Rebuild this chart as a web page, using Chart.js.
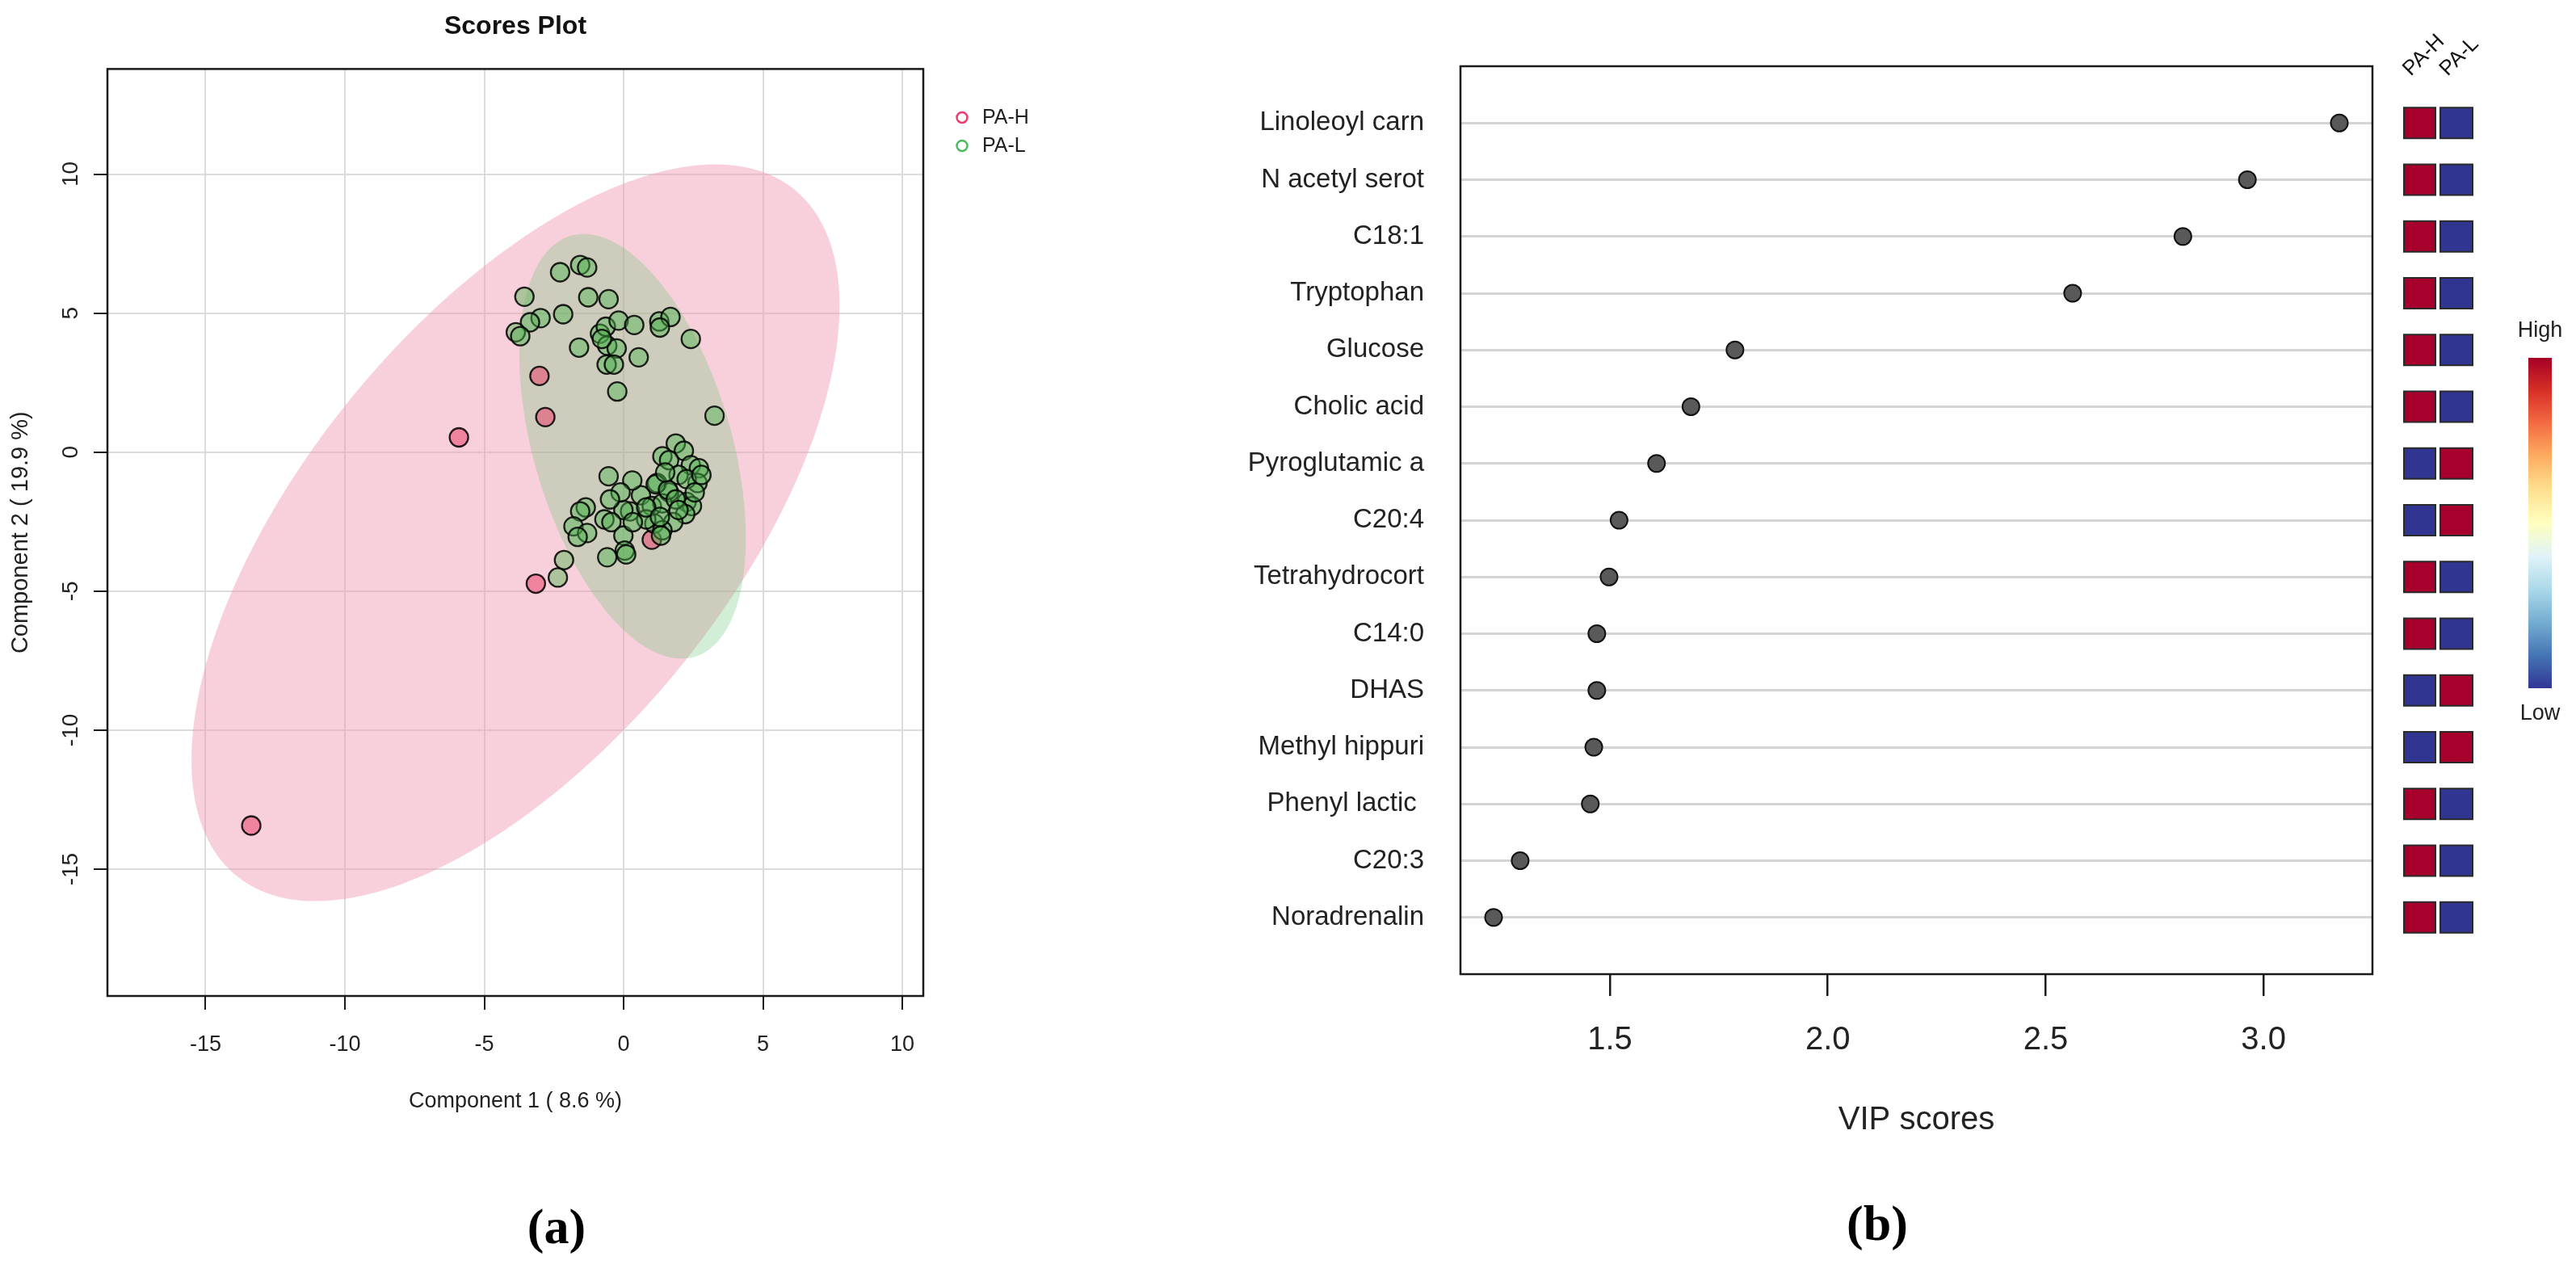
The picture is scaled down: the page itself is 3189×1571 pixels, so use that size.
<!DOCTYPE html>
<html>
<head>
<meta charset="utf-8">
<script src="https://cdn.jsdelivr.net/npm/chart.js@4.4.1/dist/chart.umd.min.js"></script>
<style>
  html, body { margin: 0; padding: 0; background: #fff; }
  #page { position: relative; width: 3189px; height: 1571px; overflow: hidden; }
  #scoresBox { position: absolute; left: 0; top: 0; width: 1400px; height: 1571px; }
  #vipBox { position: absolute; left: 1400px; top: 0; width: 1789px; height: 1571px; }
  .tag { position: absolute; transform: translate(-50%, -50%); font-family: 'Liberation Serif', 'DejaVu Serif', serif; font-weight: bold; font-size: 62px; color: #000; }
</style>
</head>
<body>
<div id="page">
  <div id="scoresBox"><canvas id="scoresPlot"></canvas></div>
  <div id="vipBox"><canvas id="vipPlot"></canvas></div>
  <div class="tag" style="left:689px; top:1518px">(a)</div>
  <div class="tag" style="left:2324px; top:1514px">(b)</div>
</div>
<script>
const SANS = "'Liberation Sans', Arial, Helvetica, sans-serif";

// (a) Scores plot: points (component 1, component 2)
const scoreGroups = ['PA-H', 'PA-L'];
const paHScores = [
  [-13.36, -13.43], [-5.91, 0.53], [-3.02, 2.74], [-2.81, 1.26], [-3.15, -4.73], [1.01, -3.15]
];
const paLScores = [
  [-2.28, 6.47], [-1.56, 6.73], [-1.31, 6.64], [-3.56, 5.59], [-1.27, 5.57], [-0.54, 5.50],
  [-2.17, 4.96], [-2.98, 4.82], [-3.36, 4.67], [-3.87, 4.31], [-3.71, 4.17], [-0.85, 4.26],
  [-0.64, 4.51], [-0.18, 4.73], [0.38, 4.57], [1.28, 4.70], [1.68, 4.86], [1.30, 4.48],
  [2.41, 4.07], [-1.60, 3.76], [-0.59, 3.83], [-0.25, 3.73], [-0.78, 4.07], [0.54, 3.41],
  [-0.61, 3.15], [-0.35, 3.15], [-0.23, 2.18], [3.26, 1.31],
  [1.87, 0.31], [2.16, 0.05], [1.39, -0.15], [1.63, -0.29], [2.41, -0.47], [2.70, -0.58],
  [1.97, -0.82], [2.65, -1.11], [2.26, -0.97], [1.20, -1.11], [1.63, -1.45], [0.62, -1.55],
  [0.23, -2.13], [-0.01, -2.08], [1.01, -1.94], [1.39, -1.84], [2.26, -1.79], [2.45, -1.94],
  [2.21, -2.23], [1.78, -2.52], [1.10, -2.57], [0.81, -2.42], [1.39, -2.81], [1.34, -3.00],
  [-0.54, -0.87], [0.31, -1.02], [-0.11, -1.45], [-0.49, -1.70], [-1.36, -1.99], [-1.56, -2.13],
  [-0.69, -2.42], [-0.44, -2.52], [-1.80, -2.67], [-1.31, -2.91], [-1.65, -3.05], [-0.01, -3.00],
  [0.04, -3.54], [0.09, -3.68], [-0.59, -3.78], [0.33, -2.52], [1.15, -1.16], [1.59, -1.36],
  [1.87, -1.70], [0.81, -1.99], [1.30, -2.33], [1.97, -2.08], [2.55, -1.45], [2.79, -0.82],
  [1.49, -0.73], [-2.14, -3.88], [-2.36, -4.51]
];
// 95% regions: centre, semi-axes, tilt in degrees
const paHEllipse = { cx: -3.88, cy: -2.90, a: 15.89, b: 7.63, angle: 51 };
const paLEllipse = { cx: 0.32, cy: 0.21, a: 7.89, b: 3.55, angle: -73.7 };
const scoreTicks = [-15, -10, -5, 0, 5, 10];

// (b) VIP scores
const vipFeatures = ['Linoleoyl carn', 'N acetyl serot', 'C18:1', 'Tryptophan', 'Glucose', 'Cholic acid',
  'Pyroglutamic a', 'C20:4', 'Tetrahydrocort', 'C14:0', 'DHAS', 'Methyl hippuri', 'Phenyl lactic ',
  'C20:3', 'Noradrenalin'];
const vipScores = [3.174, 2.963, 2.815, 2.562, 1.787, 1.686, 1.607, 1.521, 1.498, 1.470, 1.470,
  1.463, 1.455, 1.294, 1.233];
// group with the higher concentration for each feature
const vipHighGroup = ['PA-H', 'PA-H', 'PA-H', 'PA-H', 'PA-H', 'PA-H', 'PA-L', 'PA-L', 'PA-H', 'PA-H',
  'PA-L', 'PA-L', 'PA-H', 'PA-H', 'PA-H'];
const vipTicks = [1.5, 2.0, 2.5, 3.0];

const HIGH_COLOR = '#a8002c';
const LOW_COLOR = '#2f3590';
const RDYLBU = ['#a50026', '#d73027', '#f46d43', '#fdae61', '#fee090', '#ffffbf',
  '#e0f3f8', '#abd9e9', '#74add1', '#4575b4', '#313695'];

// Elipses de confianza debajo de los puntos
const ellipseFills = ['rgba(240, 150, 175, 0.45)', 'rgba(110, 200, 120, 0.30)'];
const ellipsePlugin = {
    id: 'groupEllipses',
    beforeDatasetsDraw(chart) {
        const { ctx, chartArea, scales } = chart;
        ctx.save();
        ctx.beginPath();
        ctx.rect(chartArea.left, chartArea.top, chartArea.width, chartArea.height);
        ctx.clip();
        [paHEllipse, paLEllipse].forEach((e, idx) => {
            const rad = e.angle * Math.PI / 180;
            ctx.beginPath();
            for (let k = 0; k <= 240; k++) {
                const t = k / 240 * 2 * Math.PI;
                const ex = e.cx + e.a * Math.cos(t) * Math.cos(rad) - e.b * Math.sin(t) * Math.sin(rad);
                const ey = e.cy + e.a * Math.cos(t) * Math.sin(rad) + e.b * Math.sin(t) * Math.cos(rad);
                const px = scales.x.getPixelForValue(ex);
                const py = scales.y.getPixelForValue(ey);
                if (k === 0) ctx.moveTo(px, py); else ctx.lineTo(px, py);
            }
            ctx.closePath();
            ctx.fillStyle = ellipseFills[idx];
            ctx.fill();
        });
        ctx.restore();
    }
};

// Marco completo alrededor del area de dibujo (estilo R)
const frameBox = {
    id: 'frameBox',
    afterDraw(chart) {
        const { ctx, chartArea } = chart;
        ctx.save();
        ctx.strokeStyle = '#1a1a1a';
        ctx.lineWidth = 2.5;
        ctx.strokeRect(chartArea.left, chartArea.top, chartArea.width, chartArea.height);
        ctx.restore();
    }
};

// Leyenda con circulos abiertos a la derecha del grafico
const legendColors = ['#ee3a6c', '#4cbb5e'];
const scoresLegend = {
    id: 'scoresLegend',
    afterDraw(chart) {
        const { ctx, chartArea } = chart;
        ctx.save();
        ctx.font = '25px ' + SANS;
        ctx.textBaseline = 'middle';
        scoreGroups.forEach((g, i) => {
            const cy = chartArea.top + 60 + i * 35;
            const cx = chartArea.right + 48;
            ctx.beginPath();
            ctx.arc(cx, cy, 6.5, 0, 2 * Math.PI);
            ctx.strokeStyle = legendColors[i];
            ctx.lineWidth = 2.5;
            ctx.stroke();
            ctx.fillStyle = '#222';
            ctx.fillText(g, cx + 25, cy + 1);
        });
        ctx.restore();
    }
};

// Mapa de calor PA-H / PA-L y barra de color
const vipHeatmap = {
    id: 'vipHeatmap',
    afterDraw(chart) {
        const { ctx, chartArea, scales } = chart;
        const n = vipFeatures.length;
        const cols = [{ left: 39, width: 39 }, { left: 84, width: 40 }];
        ctx.save();
        vipFeatures.forEach((f, i) => {
            const yc = scales.y.getPixelForValue(n - i);
            scoreGroups.forEach((g, j) => {
                const x0 = chartArea.right + cols[j].left;
                ctx.fillStyle = vipHighGroup[i] === g ? HIGH_COLOR : LOW_COLOR;
                ctx.fillRect(x0, yc - 19, cols[j].width, 38);
                ctx.strokeStyle = '#2a2a2a';
                ctx.lineWidth = 2;
                ctx.strokeRect(x0, yc - 19, cols[j].width, 38);
            });
        });
        // etiquetas de columna giradas
        ctx.font = '26px ' + SANS;
        ctx.fillStyle = '#111';
        ctx.textBaseline = 'alphabetic';
        ctx.textAlign = 'left';
        scoreGroups.forEach((g, j) => {
            const xc = chartArea.right + cols[j].left + cols[j].width / 2;
            ctx.save();
            ctx.translate(xc - 11, chartArea.top + 13);
            ctx.rotate(-Math.PI / 4);
            ctx.fillText(g, 0, 0);
            ctx.restore();
        });
        // barra de color
        const barX = chartArea.right + 193, barW = 29, barTop = 443, barBottom = 852;
        const grad = ctx.createLinearGradient(0, barTop, 0, barBottom);
        RDYLBU.forEach((c, k) => grad.addColorStop(k / (RDYLBU.length - 1), c));
        ctx.fillStyle = grad;
        ctx.fillRect(barX, barTop, barW, barBottom - barTop);
        ctx.font = '27px ' + SANS;
        ctx.textAlign = 'center';
        ctx.textBaseline = 'middle';
        ctx.fillStyle = '#222';
        ctx.fillText('High', barX + barW / 2, barTop - 33);
        ctx.fillText('Low', barX + barW / 2, barBottom + 32);
        ctx.restore();
    }
};

new Chart(document.getElementById('scoresPlot'), {
    type: 'scatter',
    data: {
        datasets: [
            {
                label: scoreGroups[0],
                data: paHScores.map(p => ({ x: p[0], y: p[1] })),
                backgroundColor: 'rgba(235, 70, 110, 0.55)',
                borderColor: 'rgba(0, 0, 0, 0.85)',
                borderWidth: 2.3,
                pointRadius: 11.5,
                order: 2
            },
            {
                label: scoreGroups[1],
                data: paLScores.map(p => ({ x: p[0], y: p[1] })),
                backgroundColor: 'rgba(80, 180, 80, 0.45)',
                borderColor: 'rgba(0, 0, 0, 0.85)',
                borderWidth: 2.3,
                pointRadius: 11.5,
                order: 1
            }
        ]
    },
    options: {
        responsive: true,
        maintainAspectRatio: false,
        animation: false,
        events: [],
        layout: { padding: { left: 0, right: 257, top: 0, bottom: 0 } },
        scales: {
            x: {
                type: 'linear',
                min: -18.52,
                max: 10.75,
                afterBuildTicks: s => { s.ticks = scoreTicks.map(v => ({ value: v })); },
                afterFit: s => { s.height = 338; },
                border: { display: false },
                grid: { color: '#dcdcdc', lineWidth: 2, tickColor: '#1a1a1a', tickLength: 17, tickWidth: 2 },
                ticks: { color: '#222', font: { family: SANS, size: 27 }, padding: 27, maxRotation: 0 },
                title: {
                    display: true, text: 'Component 1 ( 8.6 %)', color: '#222',
                    font: { family: SANS, size: 27 }, padding: { top: 0, bottom: 191 }
                }
            },
            y: {
                type: 'linear',
                min: -19.56,
                max: 13.78,
                afterBuildTicks: s => { s.ticks = scoreTicks.map(v => ({ value: v })); },
                afterFit: s => { s.width = 133; },
                border: { display: false },
                grid: { color: '#dcdcdc', lineWidth: 2, tickColor: '#1a1a1a', tickLength: 17, tickWidth: 2 },
                ticks: {
                    color: '#222', font: { family: SANS, size: 28 }, padding: 7,
                    minRotation: 90, maxRotation: 90, crossAlign: 'center'
                },
                title: {
                    display: true, text: 'Component 2 ( 19.9 %)', color: '#222',
                    font: { family: SANS, size: 29 }, padding: { top: 9, bottom: 0 }
                }
            }
        },
        plugins: {
            legend: { display: false },
            tooltip: { enabled: false },
            title: {
                display: true, text: 'Scores Plot', color: '#111', fullSize: false,
                font: { family: SANS, size: 32, weight: 'bold', lineHeight: 1.2 },
                padding: { top: 14, bottom: 33 }
            }
        }
    },
    plugins: [ellipsePlugin, frameBox, scoresLegend]
});

new Chart(document.getElementById('vipPlot'), {
    type: 'scatter',
    data: {
        datasets: [{
            label: 'VIP scores',
            data: vipScores.map((v, i) => ({ x: v, y: vipFeatures.length - i })),
            backgroundColor: '#595959',
            borderColor: '#111',
            borderWidth: 2,
            pointRadius: 10.5
        }]
    },
    options: {
        responsive: true,
        maintainAspectRatio: false,
        animation: false,
        events: [],
        layout: { padding: { left: 0, right: 252, top: 82, bottom: 0 } },
        scales: {
            x: {
                type: 'linear',
                min: 1.157,
                max: 3.25,
                afterBuildTicks: s => { s.ticks = vipTicks.map(v => ({ value: v })); },
                afterFit: s => { s.height = 1571 - 1206; },
                border: { display: false },
                grid: { drawOnChartArea: false, color: '#1a1a1a', tickLength: 27, lineWidth: 2.5 },
                ticks: {
                    color: '#222', font: { family: SANS, size: 40 }, padding: 31, maxRotation: 0,
                    callback: v => v.toFixed(1)
                },
                title: {
                    display: true, text: 'VIP scores', color: '#222',
                    font: { family: SANS, size: 40 }, padding: { top: 0, bottom: 160 }
                }
            },
            y: {
                type: 'linear',
                min: 0,
                max: vipFeatures.length + 1,
                afterBuildTicks: s => { s.ticks = vipFeatures.map((f, i) => ({ value: i + 1 })); },
                afterFit: s => { s.width = 1808 - 1400; },
                border: { display: false },
                grid: { color: '#d4d4d4', lineWidth: 3, drawTicks: false },
                ticks: {
                    color: '#222', font: { family: SANS, size: 33 }, padding: 45,
                    callback: v => vipFeatures[vipFeatures.length - v]
                }
            }
        },
        plugins: {
            legend: { display: false },
            tooltip: { enabled: false }
        }
    },
    plugins: [frameBox, vipHeatmap]
});
</script>
</body>
</html>
